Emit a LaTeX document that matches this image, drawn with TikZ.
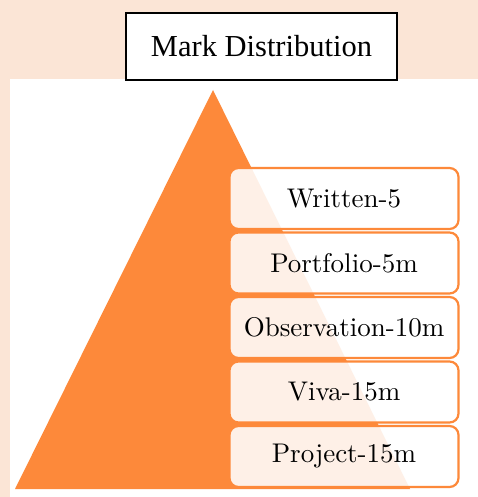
\documentclass[tikz,border=0pt]{standalone}
\usepackage{fontspec}
\newfontfamily\titlefont{Liberation Serif}
\newfontfamily\markfont{lmroman10-regular.otf}
\usetikzlibrary{positioning}
\definecolor{peach}{HTML}{FBE5D6}
\definecolor{pyrorange}{RGB}{253,137,58}

\begin{document}
\begin{tikzpicture}[x=1pt,y=-1pt,node distance=3.5pt,
                    font=\markfont\fontsize{27}{30}\selectfont]
  \tikzstyle{titlebox}=[draw=black,line width=1.6pt,fill=white,
                        minimum width=271pt,minimum height=67pt,
                        font=\titlefont\fontsize{30.5}{34}\selectfont]
  \tikzstyle{markbox}=[draw=pyrorange,line width=2.2pt,rounded corners=9pt,
                       fill=white,fill opacity=0.88,text opacity=1,outer sep=0pt,
                       minimum width=229pt,minimum height=61pt]

  \useasboundingbox (0,0) rectangle (478,497);
  \fill[peach] (0,0) rectangle (478,497);
  \fill[white] (10,79) rectangle (478,497);
  \fill[pyrorange] (213,90) -- (410,489) -- (15,489) -- cycle;

  \node[titlebox] (title) at (261.5,46.5) {Mark Distribution};

  \node[markbox]                    (written)     at (344,198.5) {Written-5};
  \node[markbox,below=of written]   (portfolio)   {Portfolio-5m};
  \node[markbox,below=of portfolio] (observation) {Observation-10m};
  \node[markbox,below=of observation] (viva)      {Viva-15m};
  \node[markbox,below=of viva]      (project)     {Project-15m};

\end{tikzpicture}
\end{document}
